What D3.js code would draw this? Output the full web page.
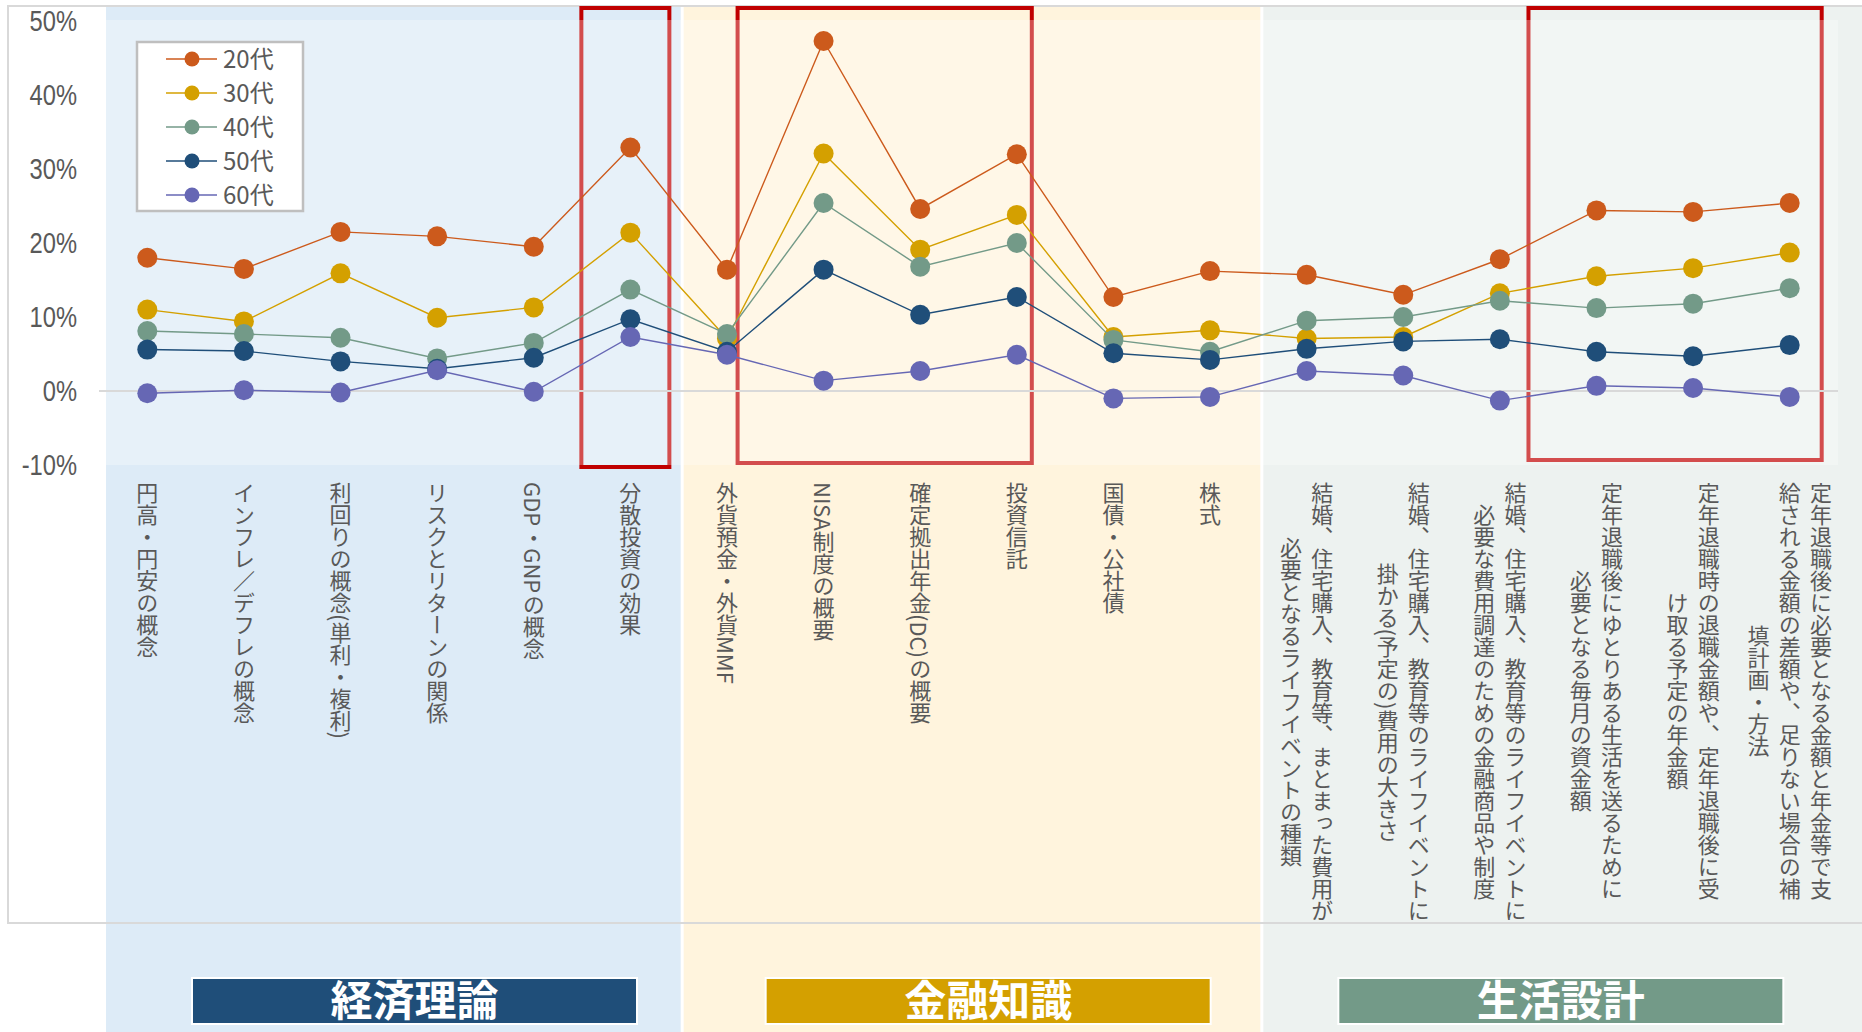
<!DOCTYPE html>
<html lang="ja">
<head>
  <meta charset="UTF-8">
  <title>年代別 金融リテラシー</title>
  <style>
    body { margin: 0; background: #fff; }
    svg text { font-family: "Noto Sans CJK JP", "Noto Sans", sans-serif; fill: #595959; }
  </style>
</head>
<body>
  <div id="chart"></div>

  <script src="https://d3js.org/d3.v7.min.js"></script>
  <script>
    // categories (line breaks as in the original labels)
    const categories = [
      "円高・円安の概念",
      "インフレ／デフレの概念",
      "利回りの概念(単利・複利)",
      "リスクとリターンの関係",
      "GDP・GNPの概念",
      "分散投資の効果",
      "外貨預金・外貨MMF",
      "NISA制度の概要",
      "確定拠出年金(DC)の概要",
      "投資信託",
      "国債・公社債",
      "株式",
      "結婚、住宅購入、教育等、まとまった費用が\n必要となるライフイベントの種類",
      "結婚、住宅購入、教育等のライフイベントに\n掛かる(予定の)費用の大きさ",
      "結婚、住宅購入、教育等のライフイベントに\n必要な費用調達のための金融商品や制度",
      "定年退職後にゆとりある生活を送るために\n必要となる毎月の資金額",
      "定年退職時の退職金額や、定年退職後に受\nけ取る予定の年金額",
      "定年退職後に必要となる金額と年金等で支\n給される金額の差額や、足りない場合の補\n填計画・方法"
    ];

    const seriesNames = ["20代", "30代", "40代", "50代", "60代"];

    // values in %
    const values20 = [18.0, 16.5, 21.5, 20.9, 19.5, 32.9, 16.4, 47.3, 24.6, 32.0, 12.7, 16.2, 15.7, 13.0, 17.8, 24.4, 24.2, 25.4];
    const values30 = [11.0, 9.4, 15.9, 9.9, 11.3, 21.4, 7.1, 32.1, 19.1, 23.8, 7.3, 8.2, 7.1, 7.3, 13.2, 15.5, 16.6, 18.7];
    const values40 = [8.1, 7.7, 7.2, 4.4, 6.5, 13.7, 7.7, 25.4, 16.8, 20.0, 6.9, 5.3, 9.5, 10.0, 12.2, 11.2, 11.8, 13.9];
    const values50 = [5.6, 5.4, 4.0, 3.0, 4.5, 9.7, 5.3, 16.4, 10.3, 12.7, 5.1, 4.2, 5.7, 6.7, 7.0, 5.3, 4.7, 6.2];
    const values60 = [-0.3, 0.1, -0.2, 2.8, -0.1, 7.3, 4.9, 1.4, 2.7, 4.9, -1.0, -0.8, 2.7, 2.1, -1.3, 0.7, 0.4, -0.8];

    const yTicks = [-0.1, 0, 0.1, 0.2, 0.3, 0.4, 0.5];

    const sectionNames = ["経済理論", "金融知識", "生活設計"];
    const sectionFirst = [0, 6, 12];
    const sectionLast = [5, 11, 17];

    // highlighted category ranges (first, last)
    const highlightFrom = [5, 7, 15];
    const highlightTo = [5, 9, 17];

    const colors = ["#CC5A1C", "#D4A000", "#739A88", "#1F4E79", "#6667B4"];
    const bandFill = ["#DDEBF7", "#FFF4DD", "#EDF2F0"];
    const boxFill = ["#1F4E79", "#D4A000", "#739A88"];

    const series = seriesNames.map((name, i) => ({
      name,
      color: colors[i],
      values: [values20, values30, values40, values50, values60][i]
    }));

    const width = 1862;
    const height = 1032;

    const svg = d3.select("#chart").append("svg")
      .attr("width", width)
      .attr("height", height);

    const x = d3.scaleBand().domain(categories).range([99, 1838]);
    const step = x.step();
    const cx = (d) => x(d) + x.bandwidth() / 2;
    const y = d3.scaleLinear().domain([-0.1, 0.5]).range([465, 21]);

    // section background bands
    svg.selectAll("rect.band")
      .data(sectionNames)
      .enter()
      .append("rect")
      .attr("class", "band")
      .attr("x", (d, i) => x(categories[sectionFirst[i]]) + (i === 0 ? 7 : 5))
      .attr("y", 7)
      .attr("width", (d, i) => {
        const x0 = x(categories[sectionFirst[i]]) + (i === 0 ? 7 : 5);
        const x1 = i === 2 ? width : x(categories[sectionLast[i]]) + step + 2;
        return x1 - x0;
      })
      .attr("height", height - 7)
      .attr("fill", (d, i) => bandFill[i]);

    // chart frame
    svg.append("rect")
      .attr("x", 8).attr("y", 6)
      .attr("width", width).attr("height", 917)
      .attr("fill", "none")
      .attr("stroke", "#d9d9d9")
      .attr("stroke-width", 2);

    // red highlight boxes
    const hlLeft = [-49, -86, -68];
    const hlRight = [39, 15, 32];
    const hlBottom = [467, 463, 460];
    svg.selectAll("rect.hl")
      .data(highlightFrom)
      .enter()
      .append("rect")
      .attr("class", "hl")
      .attr("x", (d, i) => cx(categories[d]) + hlLeft[i])
      .attr("y", 8)
      .attr("width", (d, i) => cx(categories[highlightTo[i]]) + hlRight[i] - (cx(categories[d]) + hlLeft[i]))
      .attr("height", (d, i) => hlBottom[i] - 8)
      .attr("fill", "none")
      .attr("stroke", "#C00000")
      .attr("stroke-width", 4);

    // plot area (semi-transparent white)
    svg.append("rect")
      .attr("x", x.range()[0]).attr("y", y(0.5) - 1)
      .attr("width", x.range()[1] - x.range()[0])
      .attr("height", y(-0.1) - y(0.5) + 1)
      .attr("fill", "#fff")
      .attr("opacity", 0.3);

    // zero line
    svg.append("line")
      .attr("x1", x.range()[0]).attr("x2", x.range()[1])
      .attr("y1", y(0)).attr("y2", y(0))
      .attr("stroke", "#d9d9d9")
      .attr("stroke-width", 2);

    // y axis labels
    const yAxis = svg.append("g")
      .attr("transform", "translate(77,0)")
      .call(d3.axisLeft(y).tickValues(yTicks).tickSize(0).tickPadding(0)
        .tickFormat((d) => (d < 0 ? "-" : "") + Math.round(Math.abs(d) * 100) + "%"));
    yAxis.select(".domain").remove();
    yAxis.selectAll("text")
      .attr("font-family", "Liberation Sans, Arial, sans-serif")
      .style("font-family", "'Liberation Sans', Arial, sans-serif")
      .attr("font-size", 30)
      .attr("fill", "#595959")
      .attr("transform", "scale(0.79,1)");

    // lines + markers
    const line = d3.line()
      .x((d, i) => cx(categories[i]))
      .y((d) => y(d / 100));

    series.forEach((s) => {
      const g = svg.append("g");
      g.append("path")
        .attr("d", line(s.values))
        .attr("fill", "none")
        .attr("stroke", s.color)
        .attr("stroke-width", 1.4);
      g.selectAll("circle")
        .data(s.values)
        .enter()
        .append("circle")
        .attr("cx", (d, i) => cx(categories[i]))
        .attr("cy", (d) => y(d / 100))
        .attr("r", 10)
        .attr("fill", s.color);
    });

    // legend
    const legend = svg.append("g");
    legend.append("rect")
      .attr("x", 137).attr("y", 42)
      .attr("width", 166).attr("height", 169)
      .attr("fill", "#fff")
      .attr("stroke", "#bfbfbf")
      .attr("stroke-width", 2.5);
    const item = legend.selectAll("g")
      .data(series)
      .enter()
      .append("g")
      .attr("transform", (d, i) => `translate(0, ${59 + i * 34})`);
    item.append("line")
      .attr("x1", 166).attr("x2", 217)
      .attr("stroke", (d) => d.color)
      .attr("stroke-width", 1.5);
    item.append("circle")
      .attr("cx", 192).attr("r", 7.5)
      .attr("fill", (d) => d.color);
    item.append("text")
      .attr("x", 223)
      .attr("dy", "0.36em")
      .attr("font-size", 24)
      .text((d) => d.name);

    // category labels (vertical)
    const labelTop = 482;
    const lineGap = 31.2;
    categories.forEach((c) => {
      const lines = c.split("\n");
      const g = svg.append("g");
      lines.forEach((t, k) => {
        g.append("text")
          .attr("x", cx(c) + ((lines.length - 1) / 2 - k) * lineGap)
          .attr("y", 0)
          .attr("text-anchor", "middle")
          .style("writing-mode", "vertical-rl")
          .attr("font-size", 22)
          .text(t);
      });
      const bb = g.node().getBBox();
      g.attr("transform", `translate(0, ${labelTop - bb.y})`);
    });

    // section title boxes
    const boxOffset = [93, 87, 80];
    const boxes = svg.selectAll("g.sec")
      .data(sectionNames)
      .enter()
      .append("g")
      .attr("class", "sec")
      .attr("transform", (d, i) => `translate(${x(categories[sectionFirst[i]]) + boxOffset[i]}, 978)`);
    boxes.append("rect")
      .attr("width", 445).attr("height", 46)
      .attr("fill", (d, i) => boxFill[i])
      .attr("stroke", "#fff")
      .attr("stroke-width", 2);
    boxes.append("text")
      .attr("x", 222.5).attr("y", 23)
      .attr("dy", "0.36em")
      .attr("text-anchor", "middle")
      .attr("font-size", 42)
      .attr("font-weight", 700)
      .style("fill", "#fff")
      .text((d) => d);
  </script>
</body>
</html>
